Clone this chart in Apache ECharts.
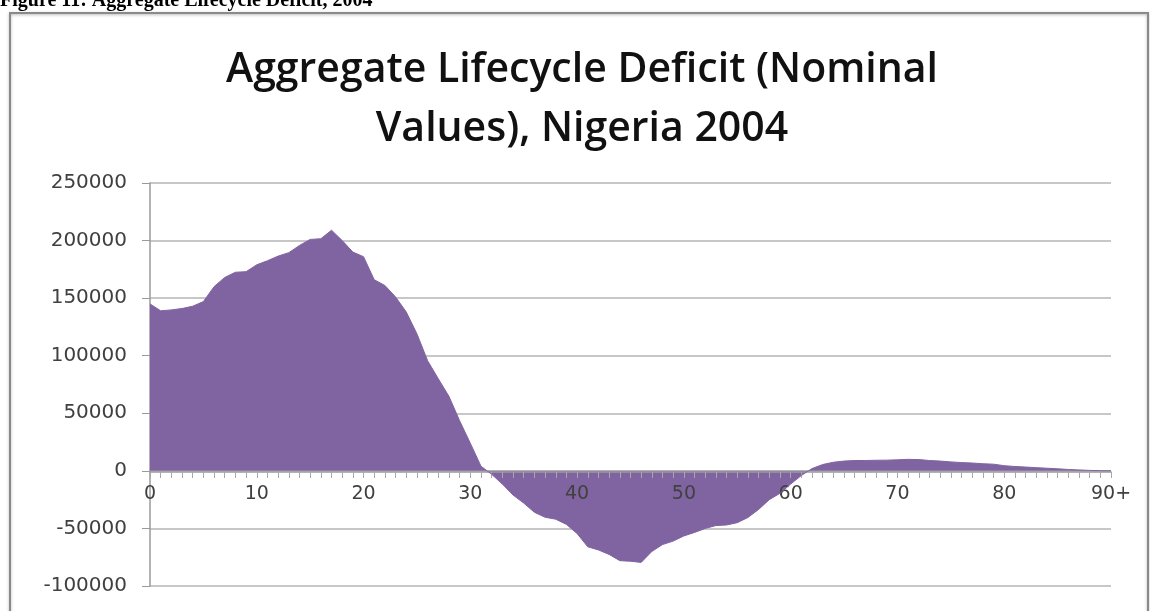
<!DOCTYPE html>
<html>
<head>
<meta charset="utf-8">
<script src="https://cdn.jsdelivr.net/npm/echarts@6/dist/echarts.min.js"></script>
<style>
  html, body { margin: 0; padding: 0; background: #fff; }
  #chart { width: 1150px; height: 611px; }
</style>
</head>
<body>
<div id="chart"></div>
<script>
// ages 0..90+, one category per year
const ages = []
for (let a = 0; a <= 90; a++) ages.push(String(a))

// aggregate lifecycle deficit, nominal values
const deficit = [
  145000, 139000, 139800, 141000, 143000, 147000, 160000, 168000, 172500, 173000,
  179000, 182500, 186500, 189500, 195800, 201000, 201600, 209000, 200000, 190000,
  186000, 166000, 161000, 151000, 138000, 119000, 95700, 80000, 64700, 43500,
  24000, 4000, -3000, -11500, -21000, -28000, -36000, -40300, -42000, -46500,
  -54500, -66000, -68700, -72600, -78000, -78500, -79500, -70000, -64000, -61000,
  -56500, -53500, -50000, -47500, -47000, -45000, -40500, -33500, -25000, -19500,
  -11500, -4000, 2000, 5500, 7500, 8500, 9000, 9000, 9200, 9300,
  9600, 10000, 9800, 9000, 8500, 7800, 7200, 6800, 6200, 5800,
  4500, 3800, 3300, 2800, 2300, 1800, 1200, 800, 400, 200,
  100
]

const yTicks = [-100000, -50000, 0, 50000, 100000, 150000, 200000, 250000]

const chart = echarts.init(document.getElementById('chart'))

// grid is fixed, so the zero line sits 114px above the grid bottom
const zeroOffset = -114

chart.setOption({
  animation: false,
  title: {
    text: 'Aggregate Lifecycle Deficit (Nominal\nValues), Nigeria 2004',
    left: 582,
    top: 41,
    textAlign: 'center',
    padding: 0,
    textStyle: {
      fontFamily: '"Open Sans", sans-serif',
      fontSize: 41,
      fontWeight: 600,
      lineHeight: 59,
      color: '#111'
    }
  },
  graphic: [
    {
      type: 'rect',
      shape: { x: 10, y: 13, width: 1138, height: 620 },
      style: { fill: 'none', stroke: '#8a8a8a', lineWidth: 2, shadowBlur: 3, shadowColor: 'rgba(0,0,0,0.3)', shadowOffsetY: 1 },
      z: 10
    },
    {
      type: 'text',
      left: 0,
      top: -9,
      style: {
        text: 'Figure 11: Aggregate Lifecycle Deficit, 2004',
        font: 'bold 20px "Liberation Serif", serif',
        fill: '#000'
      },
      z: 10
    }
  ],
  grid: { left: 150, right: 39, top: 183, bottom: 25, containLabel: false, outerBoundsMode: 'none' },
  xAxis: {
    type: 'category',
    data: ages,
    boundaryGap: false,
    position: 'bottom',
    offset: zeroOffset,
    z: 3,
    axisLine: { onZero: false, lineStyle: { color: '#9a9a9a', width: 1.5 } },
    axisTick: { show: true, interval: 0, length: 6, lineStyle: { color: '#a8a8a8' } },
    axisLabel: {
      interval: (i) => i % 10 === 0,
      formatter: (v, i) => (i === 90 ? '90+' : v),
      margin: 13,
      fontFamily: '"DejaVu Sans", sans-serif',
      fontSize: 19,
      color: '#404040'
    },
    splitLine: { show: false }
  },
  yAxis: {
    type: 'value',
    min: yTicks[0],
    max: yTicks[yTicks.length - 1],
    interval: 50000,
    axisLine: { show: true, lineStyle: { color: '#9a9a9a', width: 1.5 } },
    axisTick: { show: true, length: 8, lineStyle: { color: '#9a9a9a' } },
    axisLabel: {
      margin: 23,
      formatter: (v) => String(v),
      fontFamily: '"DejaVu Sans", sans-serif',
      fontSize: 20,
      color: '#404040'
    },
    splitLine: { lineStyle: { color: '#b5b5b5', width: 1.5 } }
  },
  series: [{
    type: 'line',
    data: deficit,
    symbol: 'none',
    lineStyle: { width: 1, color: '#8064a2' },
    areaStyle: { color: '#8064a2', opacity: 1 },
    itemStyle: { color: '#8064a2' }
  }]
})
</script>
</body>
</html>
